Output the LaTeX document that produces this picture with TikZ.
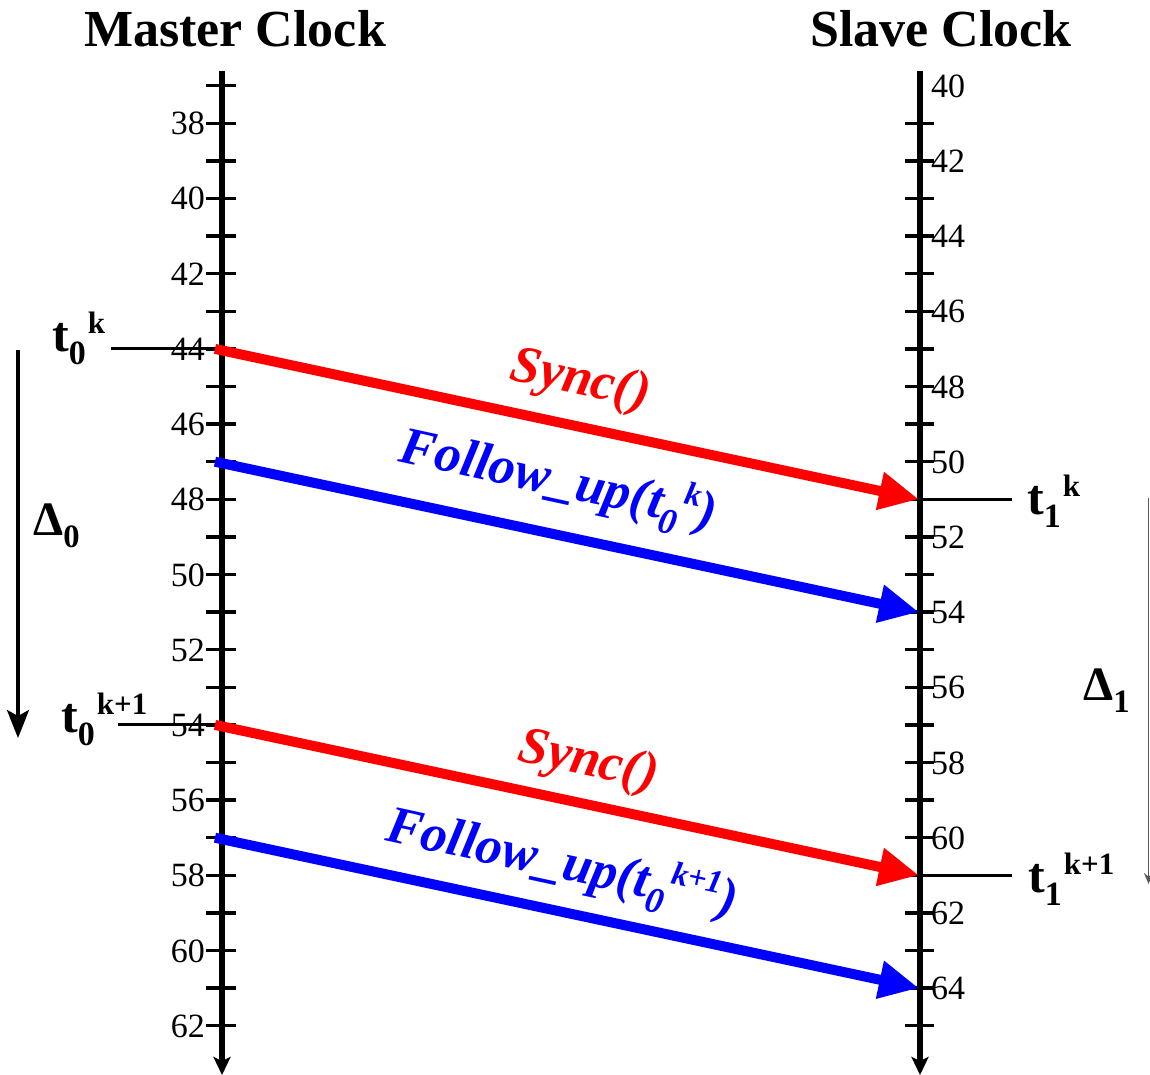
\documentclass[tikz,border=0pt]{standalone}
\usepackage{fontspec}
\setmainfont{Liberation Serif}
\usetikzlibrary{arrows.meta}
\newcommand\lowup[2]{\raisebox{-0.26em}{\scalebox{0.68}{#1}}\kern0.04em\raisebox{0.36em}{\scalebox{0.62}{#2}}}
\newcommand\lowonly[1]{\raisebox{-0.26em}{\scalebox{0.68}{#1}}}
\begin{document}
\begin{tikzpicture}[x=1pt,y=-1pt,
  axis/.style={line width=6pt,-{Stealth[length=18pt,width=17pt,inset=4pt]}},
  tickmark/.style={line width=3.5pt},
  num/.style={inner sep=0pt,font=\fontsize{34}{34}\selectfont},
  head/.style={inner sep=0pt,font=\fontsize{52}{52}\selectfont\bfseries},
  tlab/.style={inner sep=0pt,anchor=base west,font=\fontsize{50}{50}\selectfont\bfseries},
  mark line/.style={line width=3pt},
  msg/.style={line width=10pt,-{Triangle[length=40pt,width=36pt]}},
  msglab/.style={inner sep=0pt,rotate=-12.25,font=\fontsize{53}{53}\selectfont\bfseries\itshape},
  redc/.style={draw=red,text=red,color=red},
  bluec/.style={draw=blue,text=blue,color=blue}]
\useasboundingbox (0,0) rectangle (1150,1075);
\fill[white] (0,0) rectangle (1150,1075);
% headers
\node[head,anchor=base] (mh) at (235,47) {Master Clock};
\node[head,anchor=base] (sh) at (941,47) {Slave Clock};
% axes
\coordinate (mtop) at (222,71);
\coordinate (mbot) at (222,1075);
\coordinate (stop) at (920,71);
\coordinate (sbot) at (920,1075);
\draw[axis] (mtop) -- (mbot);
\draw[axis] (stop) -- (sbot);
% ticks
\foreach \m in {37,...,62} {
  \draw[tickmark] (206,{123.3+(\m-38)*37.6}) -- (236,{123.3+(\m-38)*37.6});
}
\foreach \s in {41,...,65} {
  \draw[tickmark] (905,{123.3+(\s-41)*37.6}) -- (934,{123.3+(\s-41)*37.6});
}
\foreach \m in {38,40,...,62} {
  \node[num,anchor=base east] at (205,{123.3+(\m-38)*37.6+11.5}) {\m};
}
\foreach \s in {40,42,...,64} {
  \node[num,anchor=base west] at (931,{123.3+(\s-41)*37.6+11.5}) {\s};
}
% message end points
\coordinate (m44) at (215,{123.3+6*37.6});
\coordinate (m47) at (215,{123.3+9*37.6});
\coordinate (m54) at (215,{123.3+16*37.6});
\coordinate (m57) at (215,{123.3+19*37.6});
\coordinate (s51) at (919,{123.3+10*37.6});
\coordinate (s54) at (919,{123.3+13*37.6});
\coordinate (s61) at (919,{123.3+20*37.6});
\coordinate (s64) at (919,{123.3+23*37.6});
% time stamp marks
\node[tlab] (t0k) at (52,351) {t\lowup{0}{k}};
\node[tlab] (t0k1) at (61,732) {t\lowup{0}{k+1}};
\node[tlab] (t1k) at (1027,514) {t\lowup{1}{k}};
\node[tlab] (t1k1) at (1028,892) {t\lowup{1}{k+1}};
\draw[mark line] (111,{123.3+6*37.6}) -- (236,{123.3+6*37.6});
\draw[mark line] (118,{123.3+16*37.6}) -- (222,{123.3+16*37.6});
\draw[mark line] (905,{123.3+10*37.6}) -- (1012,{123.3+10*37.6});
\draw[mark line] (905,{123.3+20*37.6}) -- (1012,{123.3+20*37.6});
% messages
\draw[msg,redc] (m44) -- (s51);
\draw[msg,bluec] (m47) -- (s54);
\draw[msg,redc] (m54) -- (s61);
\draw[msg,bluec] (m57) -- (s64);
\node[msglab,text=red] (sync1) at (580,382) {Sync()};
\node[msglab,text=blue] (fu1) at (558,482) {Follow\_up(t\lowup{0}{k})};
\node[msglab,text=red] (sync2) at (588,763) {Sync()};
\node[msglab,text=blue] (fu2) at (562,865) {Follow\_up(t\lowup{0}{k+1})};
% intervals
\coordinate (d0a) at (18,350);
\coordinate (d0b) at (18,738);
\draw[line width=3.5pt,-{Stealth[length=28pt,width=22pt,inset=6pt]}] (d0a) -- (d0b);
\node[tlab,font=\fontsize{48}{48}\selectfont\bfseries] (D0) at (33,535) {Δ\lowonly{0}};
\coordinate (d1a) at (1148.5,498);
\coordinate (d1b) at (1148.5,884);
\draw[line width=1.5pt,black!65,-{Stealth[length=11pt,width=9pt]}] (d1a) -- (d1b);
\node[tlab,font=\fontsize{48}{48}\selectfont\bfseries] (D1) at (1083,700) {Δ\lowonly{1}};
\end{tikzpicture}
\end{document}
